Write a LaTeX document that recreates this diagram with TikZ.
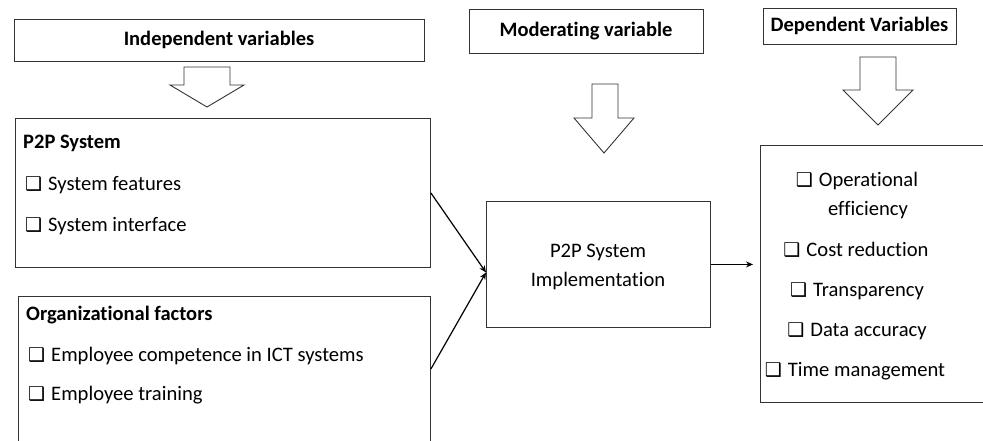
\documentclass[tikz,border=0pt]{standalone}
\usepackage{fontspec}
\setmainfont{Carlito}[Ligatures=NoCommon]
\newfontfamily\symfont{DejaVu Sans}
\usetikzlibrary{arrows.meta}
\newcommand{\cbx}{{\symfont\fontsize{19}{19}\selectfont\char"2751}}
\begin{document}
\begin{tikzpicture}[x=1pt,y=-1pt,
  frame/.style={draw=black!80, line width=0.9pt, inner sep=0pt},
  hdr/.style={frame, font=\fontsize{20.5}{22}\selectfont\bfseries},
  body/.style={font=\fontsize{20.6}{24}\selectfont, inner sep=0pt},
  bhead/.style={font=\fontsize{20.5}{24}\selectfont\bfseries, inner sep=0pt},
  blk/.style={draw=black!80, line width=0.9pt, fill=white, line join=miter},
  conn/.style={draw=black, line width=1.2pt, -{Stealth[length=7pt,width=6pt]}}]
\useasboundingbox (0,0) rectangle (983,440);

% header boxes
\node[hdr, minimum width=410pt, minimum height=42pt] (iv) at (219,40) {Independent variables};
\node[hdr, minimum width=234pt, minimum height=44pt] (mv) at (586,31) {Moderating variable};
\node[hdr, minimum width=193pt, minimum height=36pt] (dv) at (859.5,26) {Dependent Variables};

% block arrows
\draw[blk] (184,67) -- (230,67) -- (230,85) -- (244,85) -- (207,107) -- (170,85) -- (184,85) -- cycle;
\draw[blk] (592,84) -- (618,84) -- (618,118) -- (634,118) -- (604,153) -- (574,118) -- (592,118) -- cycle;
\draw[blk] (860,57) -- (896,57) -- (896,90) -- (913,90) -- (878,125) -- (843,90) -- (860,90) -- cycle;

% P2P System box
\node[frame, anchor=north west, minimum width=415pt, minimum height=149pt] (p2p) at (15,118) {};
\node[bhead, anchor=base west] (p2ph) at (23,148) {P2P System};
\node[body, anchor=base west] (p2p1) at (25,190) {\cbx\hspace{6pt}System features};
\node[body, anchor=base west] (p2p2) at (25,231) {\cbx\hspace{6pt}System interface};

% Organizational factors box
\node[frame, anchor=north west, minimum width=412pt, minimum height=147pt] (org) at (18,296) {};
\node[bhead, anchor=base west] (orgh) at (26,320) {Organizational factors};
\node[body, anchor=base west] (org1) at (28,361) {\cbx\hspace{6pt}Employee competence in ICT systems};
\node[body, anchor=base west] (org2) at (28,400) {\cbx\hspace{6pt}Employee training};

% center box
\node[frame, anchor=north west, minimum width=224pt, minimum height=126pt] (imp) at (486,201) {};
\node[body, anchor=base] (imp1) at (598,257) {P2P System};
\node[body, anchor=base] (imp2) at (598,286) {Implementation};

% dependent box
\node[frame, anchor=north west, minimum width=240pt, minimum height=257pt] (dep) at (760,145) {};
\node[body, anchor=base] (d1) at (857,186) {\cbx\hspace{6pt}Operational};
\node[body, anchor=base] (d1b) at (868,215) {efficiency};
\node[body, anchor=base] (d2) at (856,256) {\cbx\hspace{6pt}Cost reduction};
\node[body, anchor=base] (d3) at (857,296) {\cbx\hspace{6pt}Transparency};
\node[body, anchor=base] (d4) at (857,336) {\cbx\hspace{6pt}Data accuracy};
\node[body, anchor=base] (d5) at (855,376) {\cbx\hspace{6pt}Time management};

% connectors
\coordinate (join) at ([yshift=-8pt]imp.west);
\draw[conn] (p2p.east) -- (join);
\draw[conn] (org.east |- 0,369) -- (join);
\draw[conn] (imp.east) -- ([xshift=-7pt]dep.west |- imp.east);
\end{tikzpicture}
\end{document}
